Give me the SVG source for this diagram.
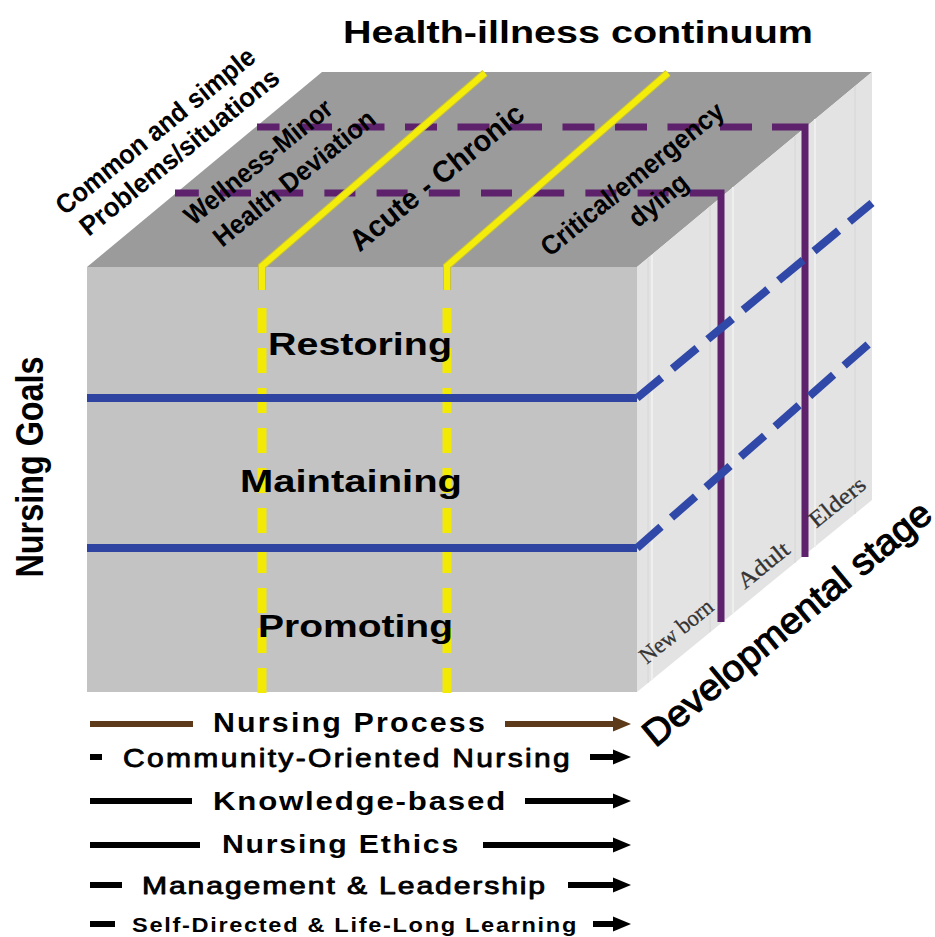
<svg xmlns="http://www.w3.org/2000/svg" width="935" height="937" viewBox="0 0 935 937">
<style>
.sans{font-family:"Liberation Sans",Arial,sans-serif;fill:#000}
.b{font-weight:bold}
.med{font-weight:normal;stroke:#000;stroke-width:0.85;stroke-linejoin:round}
.serif{font-family:"Liberation Serif","Times New Roman",serif;fill:#333;stroke:#333;stroke-width:0.3}
.pur{fill:none;stroke:#5e216c;stroke-width:7}
.yedge{fill:none;stroke:#c9c23a;stroke-width:8}
.yel{fill:none;stroke:#f4ec0a;stroke-width:6}
.ydash{fill:none;stroke:#f2ea05;stroke-width:9;stroke-dasharray:25 15}
.blue{fill:none;stroke:#2e44a0;stroke-width:8}
.bdash{fill:none;stroke:#3048a8;stroke-width:8;stroke-dasharray:32 14}
.stripe{stroke:#d6d6d6;stroke-width:1}
.stripe2{stroke:#efefef;stroke-width:2}
.ln{stroke:#000;stroke-width:6}
.br{stroke:#5c3a1a;stroke-width:6}
</style>
<rect width="935" height="937" fill="#ffffff"/>

<g id="cube">
  <polygon id="top-face" points="87,267 322,72 872,72 637,267" fill="#9b9b9b"/>
  <rect id="front-face" x="87" y="267" width="550" height="425" fill="#c3c3c3"/>
  <polygon id="right-face" points="637,267 872,72 872,500 637,692" fill="#e3e3e3"/>
  <g id="right-stripes">
    <line class="stripe2" x1="652" y1="255" x2="652" y2="680"/>
    <line class="stripe" x1="648" y1="258" x2="648" y2="683"/>
    <line class="stripe" x1="710" y1="206" x2="710" y2="632"/>
    <line class="stripe2" x1="733" y1="187" x2="733" y2="613"/>
    <line class="stripe" x1="795" y1="136" x2="795" y2="563"/>
    <line class="stripe2" x1="815" y1="119" x2="815" y2="547"/>
    <line class="stripe" x1="855" y1="86" x2="855" y2="514"/>
  </g>
</g>

<g id="connectors">
  <g id="developmental-lines">
    <path class="pur" d="M257,127 H772" style="stroke-dasharray:32 20.5;stroke-dashoffset:9.5"/>
    <path class="pur" d="M772,127 H805 V557" stroke-linejoin="miter"/>
    <path class="pur" d="M175,193 H690" style="stroke-dasharray:31 21.2;stroke-dashoffset:7.2"/>
    <path class="pur" d="M690,193 H721 V622" stroke-linejoin="miter"/>
  </g>
  <g id="continuum-lines">
    <path class="yedge" d="M485,73 L262,266 L262,290"/>
    <path class="yel" d="M485,73 L262,266 L262,290"/>
    <line class="ydash" x1="262" y1="308" x2="262" y2="697"/>
    <path class="yedge" d="M668,73 L447,266 L447,290"/>
    <path class="yel" d="M668,73 L447,266 L447,290"/>
    <line class="ydash" x1="447" y1="308" x2="447" y2="697"/>
  </g>
  <g id="goal-lines">
    <line class="blue" x1="87" y1="398" x2="637" y2="398"/>
    <line class="bdash" x1="637" y1="398" x2="872" y2="203"/>
    <line class="blue" x1="87" y1="548" x2="637" y2="548"/>
    <line class="bdash" x1="637" y1="548" x2="872" y2="341"/>
  </g>
</g>

<g id="axis-titles">
  <text id="t-health" class="sans b" x="578" y="43" font-size="32" text-anchor="middle" textLength="470" lengthAdjust="spacingAndGlyphs">Health-illness continuum</text>
  <text id="t-goals" class="sans b" transform="translate(43,467) rotate(-90)" font-size="39" text-anchor="middle" textLength="221" lengthAdjust="spacingAndGlyphs">Nursing Goals</text>
  <text id="t-dev" class="sans med" transform="translate(795,633) rotate(-39.5)" font-size="37" text-anchor="middle" textLength="362" lengthAdjust="spacingAndGlyphs" style="stroke-width:1.1">Developmental stage</text>
  <g id="t-common" class="sans b" font-size="27" text-anchor="middle">
    <text transform="translate(161,138) rotate(-39)" textLength="248" lengthAdjust="spacingAndGlyphs">Common and simple</text>
    <text transform="translate(185,159) rotate(-39)" textLength="248" lengthAdjust="spacingAndGlyphs">Problems/situations</text>
  </g>
</g>

<g id="continuum-labels" class="sans b" text-anchor="middle">
  <g id="n-wellness" font-size="27">
    <text transform="translate(264,169) rotate(-39)" textLength="182" lengthAdjust="spacingAndGlyphs">Wellness-Minor</text>
    <text transform="translate(300,185) rotate(-39)" textLength="200" lengthAdjust="spacingAndGlyphs">Health Deviation</text>
  </g>
  <g id="n-acute" font-size="30">
    <text transform="translate(443,185) rotate(-39)" textLength="215" lengthAdjust="spacingAndGlyphs">Acute - Chronic</text>
  </g>
  <g id="n-critical" font-size="27">
    <text transform="translate(638,186) rotate(-39)" textLength="227" lengthAdjust="spacingAndGlyphs">Critical/emergency</text>
    <text transform="translate(664,207) rotate(-39)" textLength="68" lengthAdjust="spacingAndGlyphs">dying</text>
  </g>
</g>

<g id="goal-labels" class="sans b" font-size="31" text-anchor="middle">
  <g id="n-restoring"><text x="360" y="355" textLength="184" lengthAdjust="spacingAndGlyphs">Restoring</text></g>
  <g id="n-maintaining"><text x="351" y="492" textLength="222" lengthAdjust="spacingAndGlyphs">Maintaining</text></g>
  <g id="n-promoting"><text x="355.5" y="637" textLength="195" lengthAdjust="spacingAndGlyphs">Promoting</text></g>
</g>

<g id="stage-labels" class="serif" font-size="23" text-anchor="middle">
  <g id="n-newborn"><text transform="translate(681,637) rotate(-39)" textLength="88" lengthAdjust="spacingAndGlyphs">New born</text></g>
  <g id="n-adult"><text transform="translate(768,571) rotate(-39)" textLength="60" lengthAdjust="spacingAndGlyphs">Adult</text></g>
  <g id="n-elders"><text transform="translate(842,508) rotate(-39)" textLength="66" lengthAdjust="spacingAndGlyphs">Elders</text></g>
</g>

<g id="legend">
  <g id="row-process">
    <line class="br" x1="90" y1="724" x2="193" y2="724"/>
    <text class="sans b" x="213" y="732" font-size="28" letter-spacing="2" textLength="274" lengthAdjust="spacingAndGlyphs">Nursing Process</text>
    <line class="br" x1="505" y1="724" x2="616" y2="724"/>
    <polygon points="631,724 613,716.5 613,731.5" fill="#5c3a1a"/>
  </g>
  <g id="row-community">
    <line class="ln" x1="90" y1="757" x2="102" y2="757"/>
    <text class="sans med" x="123" y="767" font-size="26" letter-spacing="2" textLength="449" lengthAdjust="spacingAndGlyphs">Community-Oriented Nursing</text>
    <line class="ln" x1="590" y1="757" x2="616" y2="757"/>
    <polygon points="631,757 613,749.5 613,764.5" fill="#000"/>
  </g>
  <g id="row-knowledge">
    <line class="ln" x1="90" y1="801" x2="192" y2="801"/>
    <text class="sans b" x="213" y="810" font-size="26" letter-spacing="1.5" textLength="294" lengthAdjust="spacingAndGlyphs">Knowledge-based</text>
    <line class="ln" x1="525" y1="801" x2="616" y2="801"/>
    <polygon points="631,801 613,793.5 613,808.5" fill="#000"/>
  </g>
  <g id="row-ethics">
    <line class="ln" x1="90" y1="845" x2="200" y2="845"/>
    <text class="sans b" x="222" y="853" font-size="26" letter-spacing="1.5" textLength="238" lengthAdjust="spacingAndGlyphs">Nursing Ethics</text>
    <line class="ln" x1="483" y1="845" x2="616" y2="845"/>
    <polygon points="631,845 613,837.5 613,852.5" fill="#000"/>
  </g>
  <g id="row-management">
    <line class="ln" x1="90" y1="885" x2="122" y2="885"/>
    <text class="sans med" x="142" y="894" font-size="24" letter-spacing="1.5" textLength="405" lengthAdjust="spacingAndGlyphs">Management &amp; Leadership</text>
    <line class="ln" x1="568" y1="885" x2="616" y2="885"/>
    <polygon points="631,885 613,877.5 613,892.5" fill="#000"/>
  </g>
  <g id="row-selfdirected">
    <line class="ln" x1="90" y1="924" x2="115" y2="924"/>
    <text class="sans b" x="132" y="932" font-size="21" letter-spacing="1.5" textLength="446" lengthAdjust="spacingAndGlyphs">Self-Directed &amp; Life-Long Learning</text>
    <line class="ln" x1="593" y1="924" x2="616" y2="924"/>
    <polygon points="631,924 613,916.5 613,931.5" fill="#000"/>
  </g>
</g>
</svg>
